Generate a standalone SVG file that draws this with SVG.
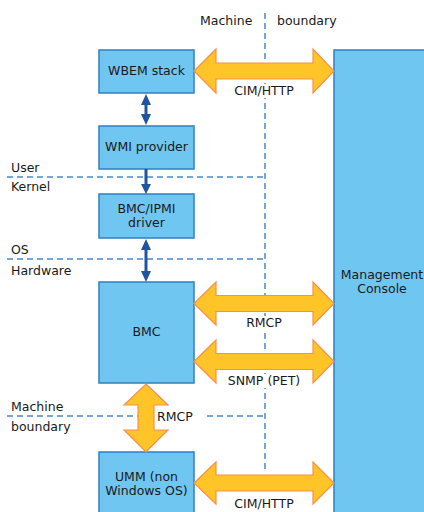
<svg xmlns="http://www.w3.org/2000/svg" width="424" height="512" viewBox="0 0 424 512">
<defs>
<style>
text{font-family:"DejaVu Sans",Verdana,sans-serif;font-size:12.5px;fill:#1a1a1a}
.c{text-anchor:middle}
.box{fill:#6fc6f0;stroke:#2f7fc4;stroke-width:1.5}
.big{fill:#fec428;stroke:#f7904a;stroke-width:1.2;stroke-linejoin:miter}
.dash{stroke:#4a88cc;stroke-width:1.5;stroke-dasharray:6,4;fill:none}
.small{fill:#1f559f}
.bg{fill:#ffffff}
</style>
</defs>
<rect width="424" height="512" fill="#ffffff"/>
<g id="boundaries">
<line class="dash" x1="265" y1="13" x2="265" y2="473"/>
<line class="dash" x1="7" y1="177" x2="265" y2="177"/>
<line class="dash" x1="7" y1="259" x2="265" y2="259"/>
<line class="dash" x1="7" y1="416" x2="265" y2="416"/>
<text x="200" y="25">Machine</text>
<text x="277" y="25">boundary</text>
<text x="11" y="172">User</text>
<text x="11" y="191">Kernel</text>
<text x="11" y="254">OS</text>
<text x="11" y="275">Hardware</text>
<text x="11" y="411">Machine</text>
<text x="11" y="431">boundary</text>
</g>
<g id="console">
<rect class="box" x="334" y="50" width="95" height="470"/>
<text class="c" x="382" y="279">Management</text>
<text class="c" x="382" y="293">Console</text>
</g>
<g id="wbem">
<rect class="box" x="99" y="50" width="95" height="43"/>
<text class="c" x="146.5" y="75">WBEM stack</text>
</g>
<g id="wmi">
<rect class="box" x="99" y="126" width="95" height="43"/>
<text class="c" x="146.5" y="151">WMI provider</text>
</g>
<g id="driver">
<rect class="box" x="99" y="194" width="95" height="44"/>
<text class="c" x="146.5" y="213">BMC/IPMI</text>
<text class="c" x="146.5" y="227">driver</text>
</g>
<g id="bmc">
<rect class="box" x="99" y="282" width="95" height="101"/>
<text class="c" x="146.5" y="336">BMC</text>
</g>
<g id="umm">
<rect class="box" x="99" y="452" width="95" height="70"/>
<text class="c" x="146.5" y="481">UMM (non</text>
<text class="c" x="146.5" y="495">Windows OS)</text>
</g>
<g id="connectors">
<path class="small" d="M146,94 L151,105 L147.5,105 L147.5,114 L151,114 L146,125 L141,114 L144.5,114 L144.5,105 L141,105 Z"/>
<path class="small" d="M144.5,169 L147.5,169 L147.5,184 L151,184 L146,194 L141,184 L144.5,184 Z"/>
<path class="small" d="M146,239 L151,250 L147.5,250 L147.5,271 L151,271 L146,282 L141,271 L144.5,271 L144.5,250 L141,250 Z"/>
<path class="big" d="M194,71 L216,49 L216,63 L313,63 L313,49 L334,71 L313,93 L313,79 L216,79 L216,93 Z"/>
<path class="big" d="M194,303.5 L216,282 L216,295.5 L313,295.5 L313,282 L334,303.5 L313,325 L313,311.5 L216,311.5 L216,325 Z"/>
<path class="big" d="M194,361.5 L216,340 L216,353.5 L313,353.5 L313,340 L334,361.5 L313,383 L313,369.5 L216,369.5 L216,383 Z"/>
<path class="big" d="M194,483 L216,462 L216,475 L313,475 L313,462 L334,483 L313,504 L313,491 L216,491 L216,504 Z"/>
<path class="big" d="M146,384 L168,405 L154,405 L154,430 L168,430 L146,452 L124,430 L138,430 L138,405 L124,405 Z"/>
<rect class="bg" x="232" y="84" width="66" height="14"/>
<text class="c" x="264" y="95">CIM/HTTP</text>
<rect class="bg" x="240" y="316" width="48" height="14"/>
<text class="c" x="264" y="327">RMCP</text>
<rect class="bg" x="222" y="374" width="84" height="14"/>
<text class="c" x="264" y="385">SNMP (PET)</text>
<rect class="bg" x="155" y="409" width="48" height="15"/>
<text x="157" y="421">RMCP</text>
<rect class="bg" x="232" y="497" width="66" height="14"/>
<text class="c" x="264" y="508">CIM/HTTP</text>
</g>
</svg>
